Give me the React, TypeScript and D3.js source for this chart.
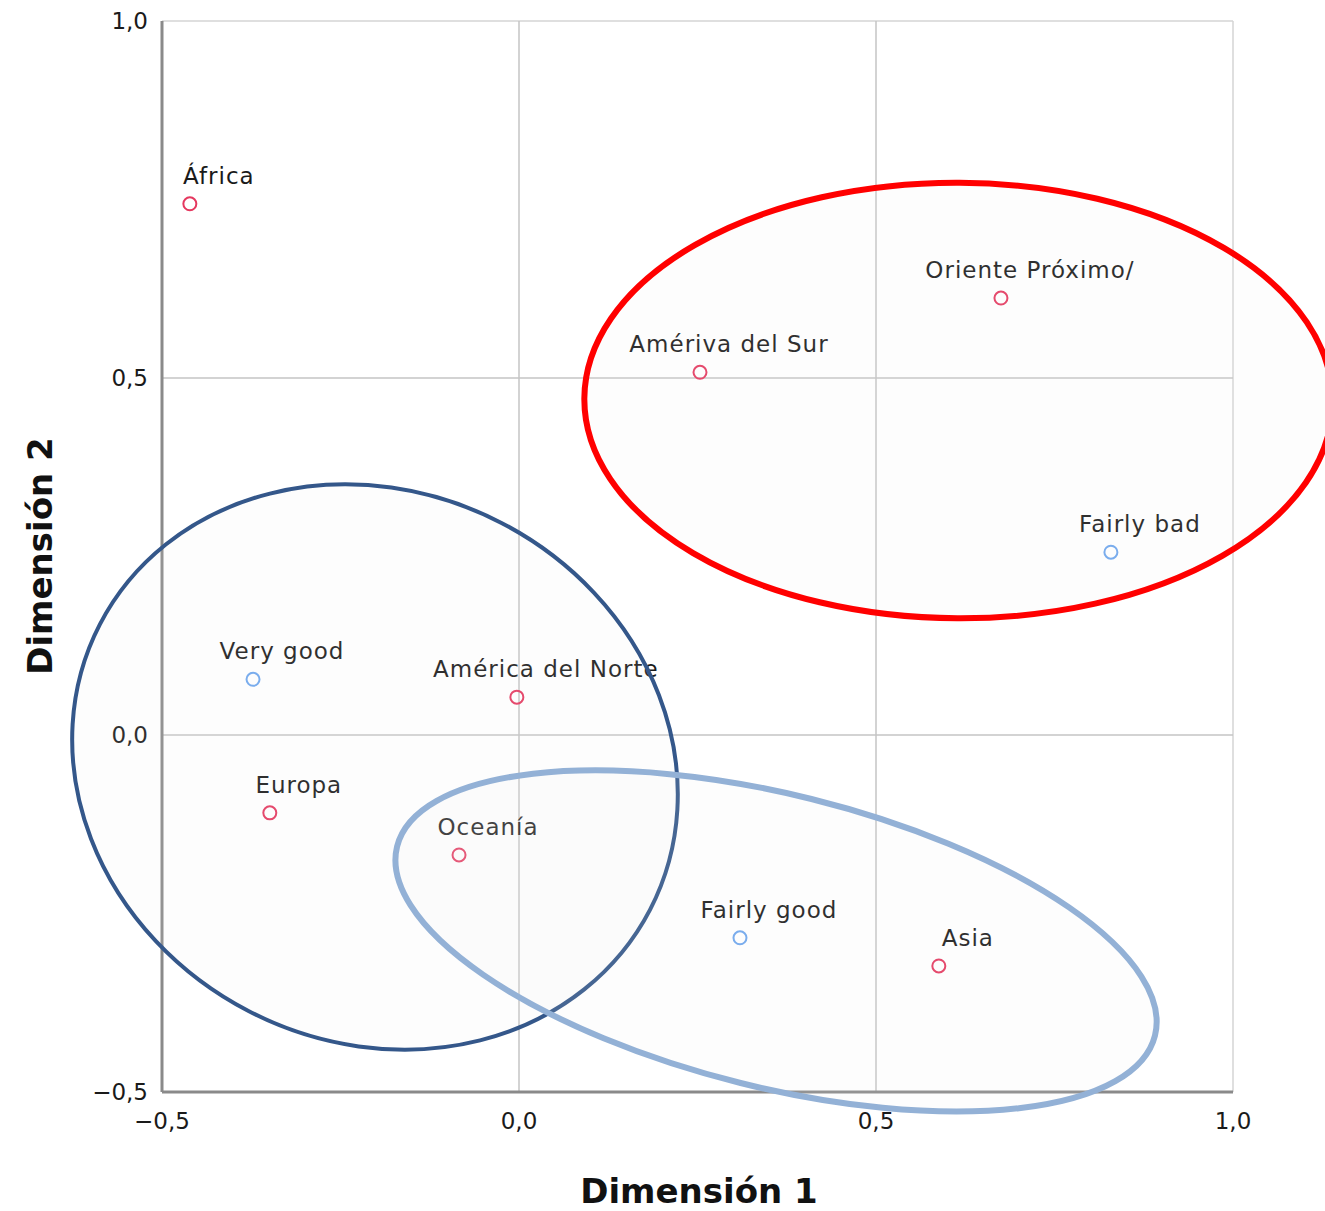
import React from "react";
import * as d3 from "d3";

const rowLabels = ["África", "Oriente Próximo/", "Amériva del Sur", "América del Norte", "Europa", "Oceanía", "Asia"];
const rowDim1 = [-0.461, 0.675, 0.2535, -0.003, -0.349, -0.084, 0.588];
const rowDim2 = [0.744, 0.612, 0.508, 0.053, -0.109, -0.168, -0.3235];

const colLabels = ["Very good", "Fairly good", "Fairly bad"];
const colDim1 = [-0.3725, 0.3095, 0.829];
const colDim2 = [0.078, -0.284, 0.256];

const tickValues = [-0.5, 0, 0.5, 1.0];
const tickLabels = ["−0,5", "0,0", "0,5", "1,0"];

// annotation ellipses in data units: cx, cy, rx, ry, rotation (deg, clockwise on screen)
const ellipseNames = ["red", "dark", "light"];
const ellipseCx = [0.6155, -0.2017, 0.36];
const ellipseCy = [0.4685, -0.0448, -0.2885];
const ellipseRx = [0.524, 0.434, 0.547];
const ellipseRy = [0.305, 0.385, 0.205];
const ellipseRot = [0.3, 27.4, 14];
const ellipseColors = ["#ff0000", "#34578a", "#93b1d6"];
const ellipseWidths = [6, 4, 6];

export default function App() {
  const W = 1325, H = 1211;
  const x = d3.scaleLinear().domain([-0.5, 1.0]).range([162, 1233]);
  const y = d3.scaleLinear().domain([-0.5, 1.0]).range([1092, 21]);
  const font = "'DejaVu Sans', sans-serif";
  const k = x(1) - x(0);

  const points = [
    ...rowLabels.map((l, i) => ({ label: l, x: rowDim1[i], y: rowDim2[i], color: "#e5385f" })),
    ...colLabels.map((l, i) => ({ label: l, x: colDim1[i], y: colDim2[i], color: "#6ea6ee" })),
  ];

  return (
    <svg width={W} height={H} style={{ position: "absolute", left: 0, top: 0, background: "#fff" }}>
      {/* plot border */}
      <line x1={x(-0.5)} x2={x(1)} y1={y(1)} y2={y(1)} stroke="#d4d4d4" strokeWidth={1.5} />
      <line x1={x(1)} x2={x(1)} y1={y(1)} y2={y(-0.5)} stroke="#d4d4d4" strokeWidth={1.5} />
      {/* grid */}
      {tickValues.slice(1, 3).map((v) => (
        <g key={"g" + v}>
          <line x1={x(v)} x2={x(v)} y1={y(1)} y2={y(-0.5)} stroke="#c4c4c4" strokeWidth={1.5} />
          <line x1={x(-0.5)} x2={x(1)} y1={y(v)} y2={y(v)} stroke="#c4c4c4" strokeWidth={1.5} />
        </g>
      ))}
      {/* axes */}
      <line x1={x(-0.5)} x2={x(-0.5)} y1={y(1)} y2={y(-0.5)} stroke="#8a8a8a" strokeWidth={3} />
      <line x1={x(-0.5)} x2={x(1)} y1={y(-0.5)} y2={y(-0.5)} stroke="#8a8a8a" strokeWidth={3} />
      {/* tick labels */}
      {tickValues.map((v, i) => (
        <text key={"yt" + v} x={148} y={y(v)} textAnchor="end" dominantBaseline="central"
          fontFamily={font} fontSize={23} fill="#1a1a1a">{tickLabels[i]}</text>
      ))}
      {tickValues.map((v, i) => (
        <text key={"xt" + v} x={x(v)} y={1121} textAnchor="middle" dominantBaseline="central"
          fontFamily={font} fontSize={23} fill="#1a1a1a">{tickLabels[i]}</text>
      ))}
      {/* axis titles */}
      <text x={699} y={1203} textAnchor="middle" fontFamily={font} fontWeight="bold" fontSize={34} fill="#111">Dimensión 1</text>
      <text transform={`translate(52,556) rotate(-90)`} textAnchor="middle" fontFamily={font} fontWeight="bold" fontSize={34} fill="#111">Dimensión 2</text>
      {/* points */}
      {points.map((p) => (
        <g key={p.label}>
          <circle cx={x(p.x)} cy={y(p.y)} r={6.5} fill="none" stroke={p.color} strokeWidth={2} />
          <text x={x(p.x) + 29} y={y(p.y) - 20} textAnchor="middle" fontFamily={font} fontSize={23}
            letterSpacing={1} fill="#1a1a1a">{p.label}</text>
        </g>
      ))}
      {/* ellipses */}
      {ellipseNames.map((n, i) => (
        <ellipse key={n}
          transform={`translate(${x(ellipseCx[i])},${y(ellipseCy[i])}) rotate(${ellipseRot[i]})`}
          cx={0} cy={0} rx={ellipseRx[i] * k} ry={ellipseRy[i] * k}
          fill="#e8e8e8" fillOpacity={0.1} stroke={ellipseColors[i]} strokeWidth={ellipseWidths[i]} />
      ))}
    </svg>
  );
}
